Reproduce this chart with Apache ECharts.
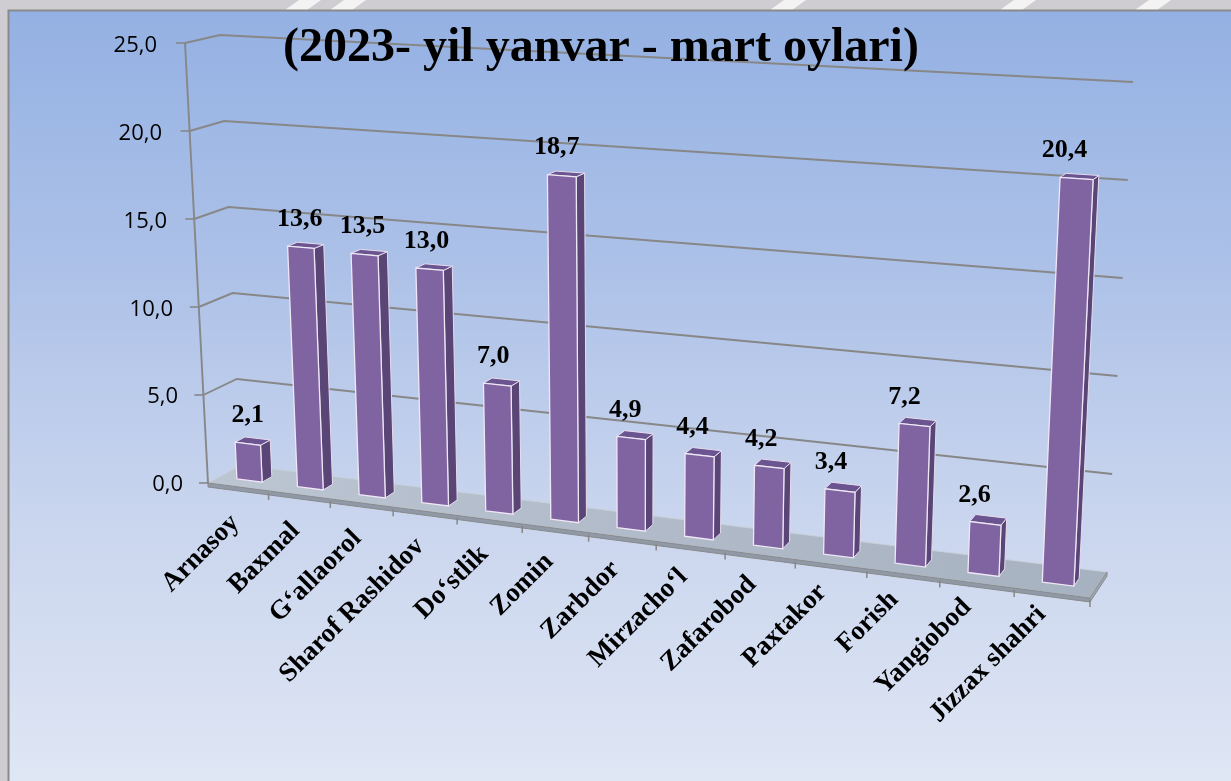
<!DOCTYPE html>
<html>
<head>
<meta charset="utf-8">
<title>Jizzax</title>
<script src="https://cdn.jsdelivr.net/npm/echarts/dist/echarts.min.js"></script>
<style>
  html, body { margin: 0; padding: 0; background: #cfcdd2; }
  #chart { width: 1231px; height: 781px; }
</style>
</head>
<body>
<div id="chart"></div>
<script>
// tumanlar va qiymatlar
var categories = ['Arnasoy', 'Baxmal', 'G‘allaorol', 'Sharof Rashidov', 'Do‘stlik', 'Zomin', 'Zarbdor',
  'Mirzacho‘l', 'Zafarobod', 'Paxtakor', 'Forish', 'Yangiobod', 'Jizzax shahri'];
var values = [2.1, 13.6, 13.5, 13.0, 7.0, 18.7, 4.9, 4.4, 4.2, 3.4, 7.2, 2.6, 20.4];
var yTicks = [0, 5, 10, 15, 20, 25];
var titleText = '(2023- yil yanvar - mart oylari)';

var N = categories.length;
// 3d ko'rinish uchun tekisliklar (old va orqa devor)
var FRONT = { l0: [208, 483], r0: [1090, 598], l1: [185, 43], r1: [1114, 93] };
var BACK = { l0: [241, 465], r0: [1107, 572], l1: [220, 35], r1: [1133, 82] };
var PERSP = 0.0088;
var BAR_HALF = 0.21, D_FRONT = 0.35, D_BACK = 0.65;
var GRID_COLOR = '#878787';
var SERIF = '"Liberation Serif", "Times New Roman", serif';

function fmt(v) {
  return v.toFixed(1).replace('.', ',');
}
function lerp(a, b, t) {
  return [a[0] + (b[0] - a[0]) * t, a[1] + (b[1] - a[1]) * t];
}
function warp(k) {
  return (k / (1 - PERSP * k)) / (N / (1 - PERSP * N));
}
function onPlane(pl, w, f) {
  return lerp(lerp(pl.l0, pl.r0, w), lerp(pl.l1, pl.r1, w), f);
}
function project(k, f, d) {
  var w = warp(k);
  return lerp(onPlane(FRONT, w, f), onPlane(BACK, w, f), d);
}
function catPos(cs, px) {
  return (px - cs.x) / cs.width * N;
}
function valPos(cs, py) {
  return (cs.y + cs.height - py) / cs.height;
}

// gorizontal chiziqlar
function renderGrid(params, api) {
  var cs = params.coordSys;
  var f = valPos(cs, api.coord([0, api.value(1)])[1]);
  var a = project(0, f, 0), b = project(0, f, 1), c = project(N, f, 1);
  var children = [{
    type: 'line',
    shape: { x1: a[0] - 9, y1: a[1], x2: a[0], y2: a[1] },
    style: { stroke: GRID_COLOR, lineWidth: 1.6 }
  }];
  if (f > 0.001) {
    children.push({
      type: 'polyline',
      shape: { points: [a, b, c] },
      style: { stroke: GRID_COLOR, lineWidth: 1.9, fill: 'none' }
    });
  }
  return { type: 'group', children: children };
}

// pol va o'q
function renderFloor(params, api) {
  var p00 = project(0, 0, 0), p01 = project(0, 0, 1), pN1 = project(N, 0, 1), pN0 = project(N, 0, 0);
  var top = project(0, 1, 0);
  var t = 4;
  return {
    type: 'group',
    children: [
      { type: 'polygon', shape: { points: [p00, p01, pN1, pN0] },
        style: { fill: { type: 'linear', x: 0, y: 0, x2: 1, y2: 0, colorStops: [
          { offset: 0, color: '#bcc5d2' }, { offset: 0.5, color: '#b0bac8' }, { offset: 1, color: '#a7b2c1' }] },
          stroke: '#c9d0da', lineWidth: 1 } },
      { type: 'polygon', shape: { points: [p00, pN0, [pN0[0], pN0[1] + t], [p00[0], p00[1] + t]] },
        style: { fill: '#8f99a7', stroke: '#8a8a8a', lineWidth: 1 } },
      { type: 'polygon', shape: { points: [pN0, pN1, [pN1[0], pN1[1] + t], [pN0[0], pN0[1] + t]] },
        style: { fill: '#9ea8b5', stroke: '#8a8a8a', lineWidth: 1 } },
      { type: 'line', shape: { x1: p00[0], y1: p00[1], x2: top[0], y2: top[1] },
        style: { stroke: GRID_COLOR, lineWidth: 1.9 } }
    ]
  };
}

// ustunlar
function renderBar(params, api) {
  var cs = params.coordSys;
  var i = api.value(0), v = api.value(1);
  var base = api.coord([i, 0]), topPt = api.coord([i, v]);
  var half = api.size([1, 0])[0] / cs.width * N * BAR_HALF;
  var kc = catPos(cs, base[0]), f = valPos(cs, topPt[1]);
  var k0 = kc - half, k1 = kc + half;
  var fb0 = project(k0, 0, D_FRONT), fb1 = project(k1, 0, D_FRONT);
  var ft0 = project(k0, f, D_FRONT), ft1 = project(k1, f, D_FRONT);
  var bb1 = project(k1, 0, D_BACK), bt0 = project(k0, f, D_BACK), bt1 = project(k1, f, D_BACK);
  var mid = lerp(ft0, ft1, 0.5);
  return {
    type: 'group',
    children: [
      { type: 'polygon', shape: { points: [fb1, bb1, bt1, ft1] },
        style: { fill: '#5a4676', stroke: '#e6dcef', lineWidth: 1 } },
      { type: 'polygon', shape: { points: [ft0, ft1, bt1, bt0] },
        style: { fill: '#6b5590', stroke: '#e6dcef', lineWidth: 1 } },
      { type: 'polygon', shape: { points: [fb0, fb1, ft1, ft0] },
        style: { fill: '#8064a2', stroke: '#efe7f5', lineWidth: 1.3 } },
      { type: 'text', x: mid[0] - i * 1.0, y: mid[1] - 28,
        style: { text: fmt(v), align: 'center', verticalAlign: 'middle',
          font: 'bold 26px ' + SERIF, fill: '#000' } }
    ]
  };
}

// kategoriya yozuvlari
function renderCat(params, api) {
  var cs = params.coordSys;
  var i = api.value(0);
  var kc = catPos(cs, api.coord([i, 0])[0]);
  var e = project(kc + 0.5, 0, 0);
  var c = project(kc, 0, 0);
  return {
    type: 'group',
    children: [
      { type: 'line', shape: { x1: e[0], y1: e[1] + 2, x2: e[0], y2: e[1] + 9 },
        style: { stroke: GRID_COLOR, lineWidth: 1.5 } },
      { type: 'text', x: c[0] - 3 - 0.6 * i, y: c[1] + 32 - 0.1 * i * i, rotation: Math.PI / 4,
        style: { text: categories[i], align: 'right', verticalAlign: 'middle',
          font: 'bold 27px ' + SERIF, fill: '#000' } }
    ]
  };
}

var labelRich = {};
yTicks.forEach(function (t) {
  labelRich['p' + t] = {
    fontFamily: '"Open Sans", sans-serif', fontSize: 22, color: '#000',
    padding: [0, Math.round(t / 25 * 26), 0, 0]
  };
});

var streaks = [];
[285, 330, 770, 1000, 1135, 1360].forEach(function (x) {
  streaks.push({
    type: 'polygon', z: -9, silent: true,
    shape: { points: [[x, 10], [x + 14, 0], [x + 36, 0], [x + 22, 10]] },
    style: { fill: 'rgba(255,255,255,0.75)' }
  });
});

var chart = echarts.init(document.getElementById('chart'), null, { renderer: 'canvas' });
chart.setOption({
  animation: false,
  backgroundColor: 'transparent',
  graphic: [
    { type: 'rect', z: -10, silent: true, shape: { x: 0, y: 0, width: 1231, height: 781 }, style: { fill: '#cfcdd2' } }
  ].concat(streaks).concat([
    { type: 'rect', z: -8, silent: true, shape: { x: 9, y: 11, width: 1222, height: 770 },
      style: { fill: { type: 'linear', x: 0, y: 0, x2: 0, y2: 1, colorStops: [
        { offset: 0, color: '#94b1e3' }, { offset: 0.35, color: '#aec2e8' },
        { offset: 0.65, color: '#c9d5ee' }, { offset: 1, color: '#dfe6f4' }] } } },
    { type: 'polyline', z: -7, silent: true, shape: { points: [[8.5, 781], [8.5, 10.5], [1231, 10.5]] },
      style: { stroke: '#8a8a8a', lineWidth: 2, fill: 'none' } },
    { type: 'text', z: 100, silent: true, x: 601, y: 49,
      style: { text: titleText, align: 'center', verticalAlign: 'middle',
        font: 'bold 48px ' + SERIF, fill: '#000' } }
  ]),
  grid: { left: 208, right: 141, top: 46, bottom: 296, outerBoundsMode: 'none' },
  xAxis: { type: 'category', data: categories, show: false },
  yAxis: {
    type: 'value', min: 0, max: 25, interval: 5,
    axisLine: { show: false }, axisTick: { show: false }, splitLine: { show: false },
    axisLabel: {
      margin: 25,
      formatter: function (v) { return '{p' + v + '|' + fmt(v) + '}'; },
      rich: labelRich
    }
  },
  series: [
    { type: 'custom', z: 1, silent: true, clip: false, renderItem: renderGrid,
      data: yTicks.map(function (t) { return [0, t]; }) },
    { type: 'custom', z: 2, silent: true, clip: false, renderItem: renderFloor, data: [[0, 0]] },
    { type: 'custom', z: 3, silent: true, clip: false, renderItem: renderBar,
      data: values.map(function (v, i) { return [i, v]; }) },
    { type: 'custom', z: 4, silent: true, clip: false, renderItem: renderCat,
      data: categories.map(function (c, i) { return [i, 0]; }) }
  ]
});
</script>
</body>
</html>
